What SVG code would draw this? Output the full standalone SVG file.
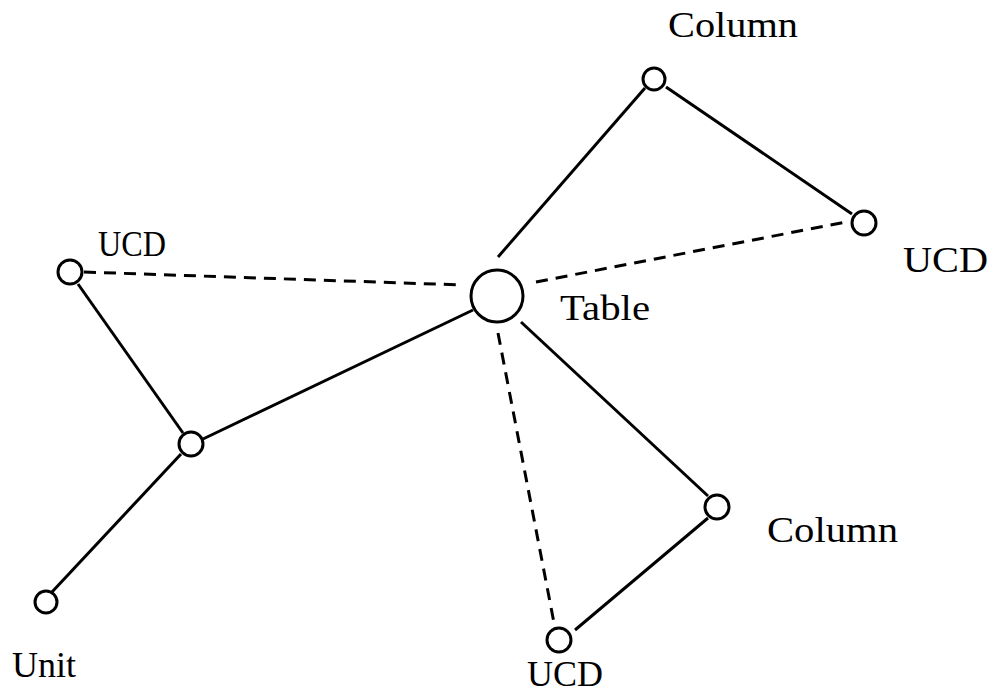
<svg xmlns="http://www.w3.org/2000/svg" width="994" height="696" viewBox="0 0 994 696">
<style>
.c{fill:#fff;stroke:#000;stroke-width:3}
.s{stroke:#000;stroke-width:3;fill:none}
.d{stroke:#000;stroke-width:3;fill:none;stroke-dasharray:12 8}
text{font-family:"Liberation Serif","DejaVu Serif",serif;font-size:35px;fill:#000}
</style>
<rect width="994" height="696" fill="#fff"/>
<g id="connectors">
<line class="s" x1="498" y1="257" x2="645" y2="88"/>
<line class="s" x1="666" y1="87" x2="852" y2="214"/>
<line class="d" x1="536" y1="282" x2="846" y2="222"/>
<line class="d" x1="84" y1="272" x2="462" y2="285"/>
<line class="s" x1="78" y1="284" x2="183" y2="433"/>
<line class="s" x1="203" y1="439" x2="473" y2="310"/>
<line class="s" x1="181" y1="454" x2="52" y2="592"/>
<line class="s" x1="521" y1="322" x2="708" y2="496"/>
<line class="d" x1="498" y1="333" x2="555" y2="628"/>
<line class="s" x1="708" y1="518" x2="575" y2="630"/>
</g>
<g id="table"><circle class="c" cx="497" cy="296" r="26"/><text x="560" y="320" textLength="90" lengthAdjust="spacingAndGlyphs">Table</text></g>
<g id="column-top"><circle class="c" cx="654" cy="79" r="11"/><text x="668" y="37" textLength="130" lengthAdjust="spacingAndGlyphs">Column</text></g>
<g id="ucd-right"><circle class="c" cx="864" cy="223" r="12"/><text x="903" y="272" textLength="85" lengthAdjust="spacingAndGlyphs">UCD</text></g>
<g id="ucd-left"><circle class="c" cx="70" cy="272" r="12"/><text x="98" y="256" textLength="68" lengthAdjust="spacingAndGlyphs">UCD</text></g>
<g id="middle"><circle class="c" cx="191" cy="444" r="12"/></g>
<g id="unit"><circle class="c" cx="46" cy="602" r="11"/><text x="12" y="677" textLength="64" lengthAdjust="spacingAndGlyphs">Unit</text></g>
<g id="column-bottom"><circle class="c" cx="717" cy="507" r="12"/><text x="767" y="542" textLength="131" lengthAdjust="spacingAndGlyphs">Column</text></g>
<g id="ucd-bottom"><circle class="c" cx="559" cy="640" r="12"/><text x="527" y="686" textLength="76" lengthAdjust="spacingAndGlyphs">UCD</text></g>
</svg>
